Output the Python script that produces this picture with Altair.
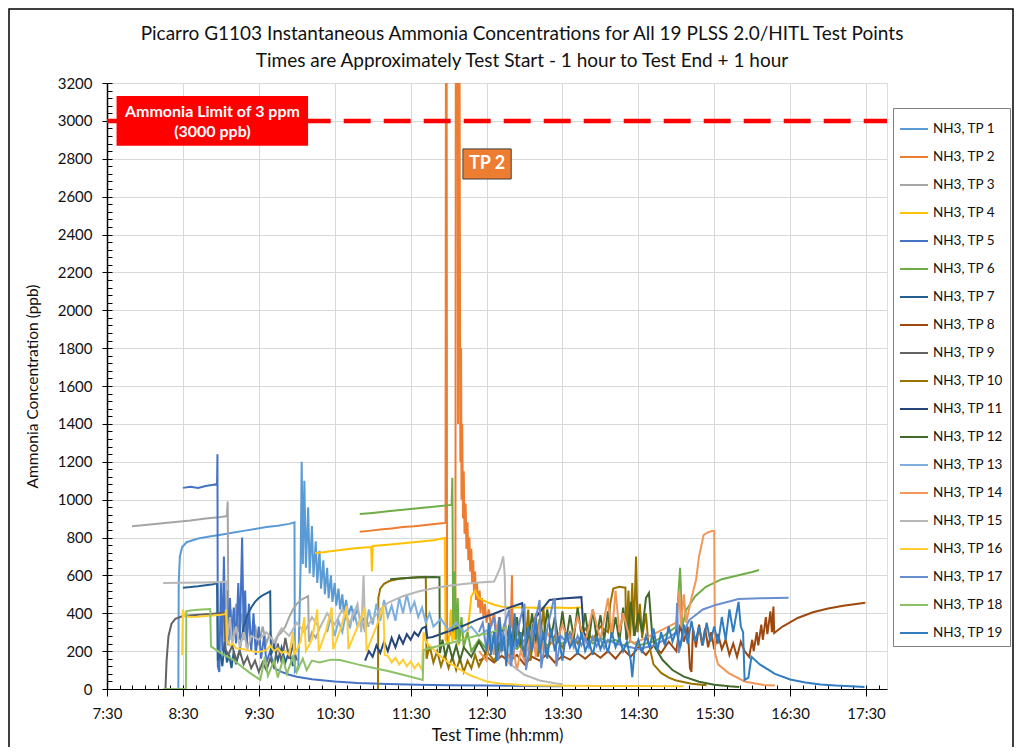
import altair as alt
import pandas as pd

FONT = "Lato"
TITLE_LINES = [
    "Picarro G1103 Instantaneous Ammonia Concentrations for All 19 PLSS 2.0/HITL Test Points",
    "Times are Approximately Test Start - 1 hour to Test End + 1 hour",
]
X_TITLE = "Test Time (hh:mm)"
Y_TITLE = "Ammonia Concentration (ppb)"
X_TICKS = [7.5 + i for i in range(11)]
Y_TICKS = list(range(0, 3201, 200))
X_MINOR = [7.5 + k / 6 for k in range(62)]
Y_MINOR = list(range(0, 3201, 40))
X_DOMAIN = [7.5, 17.776]
Y_DOMAIN = [0, 3200]

SERIES = [f"NH3, TP {i}" for i in range(1, 20)]
COLORS = ["#5B9BD5", "#ED7D31", "#A5A5A5", "#FFC000", "#4472C4", "#70AD47",
          "#255E91", "#9E480E", "#636363", "#997300", "#264478", "#43682B",
          "#7CAFDD", "#F1975A", "#B7B7B7", "#FFCD33", "#698ED0", "#8CC168",
          "#327DC2"]

LIMIT_PPB = 3000
LIMIT_TEXT = ["Ammonia Limit of 3 ppm", "(3000 ppb)"]
LIMIT_TEXT_T = [8.889, 8.889]
LIMIT_TEXT_V = [3047, 2941]
LIMIT_BOX = {"t0": [7.626], "t1": [10.149], "v0": [2868], "v1": [3132]}
TP2_TEXT = ["TP 2"]
TP2_TEXT_T = [12.507]
TP2_TEXT_V = [2772]
TP2_BOX = {"t0": [12.189], "t1": [12.825], "v0": [2693], "v1": [2852]}

# (time in decimal hours, ammonia ppb)
TP1 = [(8.40,0),(8.44,0),(8.445,560),(8.46,700),(8.49,750),(8.55,775),(8.70,795),(8.85,805),(9.00,815),(9.15,825),(9.30,835),(9.45,845),(9.60,855),(9.75,862),(9.90,872),(9.97,880),(9.975,90),(10.02,110),(10.05,640),(10.065,1200),(10.08,660),(10.10,1100),(10.12,640),(10.15,960),(10.17,610),(10.20,860),(10.22,590),(10.25,780),(10.27,560),(10.30,730),(10.32,530),(10.35,680),(10.37,500),(10.40,640),(10.42,480),(10.45,600),(10.47,460),(10.50,560),(10.52,440),(10.55,530),(10.57,420),(10.60,500),(10.62,400),(10.65,470),(10.68,390),(10.72,440),(10.75,370),(10.80,420),(10.85,350),(10.90,380),(10.95,330)]
TP2 = [(10.83,830),(10.95,835),(11.10,842),(11.25,848),(11.40,855),(11.55,860),(11.70,866),(11.85,872),(11.96,877),(11.965,3300),(11.975,3300),(11.98,250),(12.03,300),(12.09,350),(12.095,3300),(12.12,3300),(12.125,1400),(12.13,3300),(12.145,3300),(12.15,2170),(12.155,1200),(12.165,1800),(12.17,1000),(12.18,1400),(12.19,900),(12.20,1150),(12.21,820),(12.225,980),(12.235,740),(12.25,880),(12.26,680),(12.275,800),(12.285,620),(12.30,740),(12.31,560),(12.325,680),(12.335,510),(12.35,620),(12.36,470),(12.375,560),(12.39,430),(12.41,520),(12.42,400),(12.44,480),(12.46,380),(12.48,450),(12.50,350),(12.53,420),(12.56,330),(12.60,400),(12.63,300),(12.67,380),(12.70,290),(12.74,350),(12.78,280),(12.82,330),(12.835,600),(12.845,300),(12.90,320),(12.95,260),(13.00,300),(13.05,220),(13.10,280),(13.15,200),(13.20,260),(13.30,210)]
TP3 = [(7.83,860),(8.00,866),(8.20,874),(8.40,882),(8.60,890),(8.80,900),(9.00,908),(9.08,913),(9.09,990),(9.10,300),(9.13,420),(9.16,280),(9.20,450),(9.23,300),(9.27,400),(9.30,260),(9.35,380),(9.40,250),(9.45,340),(9.50,230),(9.55,330),(9.60,240),(9.65,300),(9.70,220),(9.75,280),(9.80,300),(9.85,330),(9.90,380),(9.95,420),(10.00,450),(10.05,470),(10.10,480),(10.15,490),(10.16,250),(10.20,300),(10.25,270),(10.30,320)]
TP4 = [(10.24,717),(10.40,725),(10.60,735),(10.80,745),(10.98,750),(10.99,620),(11.00,755),(11.20,762),(11.40,770),(11.60,778),(11.80,786),(11.95,797),(11.96,260),(12.00,230),(12.03,420),(12.05,250),(12.07,600),(12.08,260),(12.10,380),(12.13,230),(12.16,330),(12.20,250),(12.25,300),(12.30,490),(12.35,520),(12.40,480),(12.50,460),(12.60,445),(12.70,435),(12.80,430),(13.00,430),(13.20,428),(13.40,430),(13.60,428),(13.75,430)]
TP5 = [(8.50,1062),(8.60,1068),(8.70,1062),(8.80,1072),(8.90,1078),(8.95,1082),(8.955,1240),(8.96,120),(8.98,90),(9.00,560),(9.02,200),(9.04,700),(9.06,260),(9.08,520),(9.10,230),(9.12,480),(9.14,260),(9.17,430),(9.20,240),(9.23,560),(9.25,260),(9.28,800),(9.30,300),(9.32,520),(9.34,220),(9.37,450),(9.40,200),(9.43,400),(9.46,180),(9.50,330),(9.53,160),(9.57,280),(9.60,140),(9.65,200),(9.70,110),(9.80,90),(9.90,75),(10.00,65),(10.20,52),(10.50,40),(10.80,32),(11.20,26),(11.60,22),(12.00,20),(12.50,18),(13.00,16),(13.50,15)]
TP6 = [(10.83,924),(11.00,930),(11.20,938),(11.40,946),(11.60,955),(11.80,963),(12.04,972),(12.05,1115),(12.06,300),(12.08,620),(12.10,260),(12.12,480),(12.14,240),(12.17,380),(12.20,220),(12.25,300),(12.30,200),(12.40,260),(12.50,210),(12.60,250),(12.70,200),(12.80,240),(12.90,210),(13.00,260),(13.10,220),(13.20,270),(13.30,230),(13.40,260),(13.50,240),(13.60,270),(13.70,250),(13.80,280),(13.90,240),(14.00,270),(14.10,250),(14.20,260),(14.30,230),(14.40,250),(14.50,230),(14.60,240),(14.70,250),(14.80,270),(14.90,300),(15.00,330),(15.05,640),(15.08,330),(15.13,417),(15.25,490),(15.39,540),(15.60,580),(15.82,601),(16.00,618),(16.09,628)]
TP7 = [(8.50,535),(8.60,538),(8.70,542),(8.80,548),(8.90,553),(8.95,560),(8.96,150),(8.99,200),(9.02,120),(9.05,250),(9.08,140),(9.11,180),(9.14,110),(9.17,200),(9.20,130),(9.25,210),(9.30,330),(9.35,390),(9.40,430),(9.45,460),(9.50,480),(9.55,495),(9.60,505),(9.65,515),(9.66,180),(9.70,230),(9.75,150),(9.80,220),(9.85,140),(9.90,200),(9.95,120)]
TP8 = [(12.40,150),(12.50,170),(12.60,140),(12.70,175),(12.80,145),(12.90,180),(13.00,130),(13.10,170),(13.20,150),(13.30,185),(13.40,140),(13.50,175),(13.60,155),(13.70,190),(13.80,160),(13.90,195),(14.00,165),(14.10,200),(14.20,160),(14.30,210),(14.40,170),(14.50,220),(14.60,180),(14.70,230),(14.80,190),(14.90,250),(15.00,200),(15.05,340),(15.10,250),(15.15,330),(15.18,110),(15.20,90),(15.22,320),(15.26,220),(15.30,340),(15.34,230),(15.38,320),(15.42,220),(15.46,300),(15.50,210),(15.55,290),(15.60,210),(15.65,260),(15.70,180),(15.75,240),(15.80,170),(15.85,250),(15.90,200),(15.96,170),(16.00,260),(16.02,200),(16.06,300),(16.08,230),(16.12,340),(16.14,260),(16.18,380),(16.20,290),(16.24,410),(16.26,300),(16.28,435),(16.29,296),(16.40,330),(16.60,375),(16.80,405),(17.00,425),(17.20,440),(17.49,456)]
TP9 = [(8.27,0),(8.285,150),(8.31,280),(8.35,345),(8.40,370),(8.50,385),(8.70,392),(8.90,397),(9.05,402),(9.06,210),(9.10,180),(9.15,230),(9.20,150),(9.25,200),(9.30,130),(9.35,170),(9.40,110),(9.45,150),(9.50,90),(9.55,140),(9.60,100),(9.65,160),(9.70,120),(9.75,240),(9.80,140),(9.85,270),(9.90,160),(9.95,230),(10.00,150)]
TP10 = [(11.06,0),(11.07,0),(11.075,480),(11.10,530),(11.15,555),(11.22,570),(11.35,582),(11.50,588),(11.70,592),(11.71,160),(11.75,230),(11.80,140),(11.85,200),(11.90,120),(11.95,180),(12.00,110),(12.05,170),(12.10,100),(12.15,160),(12.20,90),(12.25,150),(12.30,110),(12.35,180),(12.40,120),(12.50,200),(12.60,150),(12.70,230),(12.80,170),(12.90,260),(13.00,190),(13.05,420),(13.08,150),(13.15,400),(13.18,170),(13.25,430),(13.28,200),(13.40,280),(13.50,220),(13.60,300),(13.70,240),(13.80,320),(13.90,260),(14.00,330),(14.10,300),(14.13,450),(14.17,530),(14.25,540),(14.33,535),(14.34,260),(14.37,520),(14.39,250),(14.42,560),(14.44,280),(14.47,700),(14.49,300),(14.52,450),(14.55,270),(14.60,400),(14.63,250),(14.66,200),(14.70,130),(14.80,85),(14.90,60),(15.00,45),(15.20,28),(15.40,20)]
TP11 = [(10.90,150),(10.95,200),(11.00,170),(11.05,230),(11.10,190),(11.15,250),(11.20,200),(11.25,270),(11.30,220),(11.35,280),(11.40,240),(11.45,290),(11.50,260),(11.55,300),(11.60,280),(11.65,320),(11.70,330),(11.72,270),(11.79,275),(12.00,305),(12.20,335),(12.40,370),(12.58,395),(12.80,430),(12.97,453),(13.00,300),(13.05,250),(13.15,380),(13.33,470),(13.50,478),(13.75,485),(13.78,300),(13.85,250)]
TP12 = [(11.23,580),(11.40,585),(11.60,590),(11.80,592),(11.88,590),(11.885,190),(11.92,260),(11.96,170),(12.00,240),(12.05,160),(12.10,230),(12.15,150),(12.20,220),(12.30,170),(12.40,250),(12.50,180),(12.60,280),(12.65,200),(12.70,320),(12.75,210),(12.80,340),(12.85,220),(12.90,380),(12.95,230),(13.00,350),(13.05,240),(13.10,400),(13.15,250),(13.20,370),(13.25,260),(13.30,420),(13.35,270),(13.40,380),(13.45,250),(13.50,410),(13.55,260),(13.60,390),(13.65,270),(13.70,430),(13.75,280),(13.80,400),(13.85,260),(13.90,420),(13.95,270),(14.00,390),(14.05,260),(14.10,410),(14.15,270),(14.20,380),(14.25,250),(14.30,430),(14.35,260),(14.40,460),(14.45,280),(14.50,400),(14.55,300),(14.60,480),(14.64,507),(14.68,300),(14.72,220),(14.82,153),(14.95,100),(15.10,65),(15.30,38),(15.50,22),(15.70,14),(15.83,10)]
TP13 = [(10.40,300),(10.45,380),(10.50,280),(10.55,360),(10.60,300),(10.65,400),(10.70,320),(10.75,420),(10.80,330),(10.85,380),(10.90,300),(10.95,420),(11.00,340),(11.05,450),(11.10,360),(11.15,470),(11.20,380),(11.25,440),(11.30,360),(11.35,480),(11.40,400),(11.45,500),(11.50,410),(11.55,460),(11.60,380),(11.65,430),(11.70,350),(11.75,400),(11.80,330),(11.90,370),(12.00,310),(12.10,350),(12.20,300),(12.30,330),(12.40,280),(12.50,310),(12.60,270),(12.70,300),(12.80,260)]
TP14 = [(12.40,200),(12.50,150),(12.55,300),(12.60,180),(12.65,350),(12.70,200),(12.75,250),(12.80,130),(12.85,220),(12.90,100),(12.95,200),(13.00,150),(13.10,320),(13.15,170),(13.20,360),(13.25,200),(13.30,300),(13.40,220),(13.50,340),(13.60,230),(13.70,380),(13.80,250),(13.90,420),(14.00,260),(14.10,480),(14.15,280),(14.20,520),(14.25,300),(14.30,400),(14.40,250),(14.45,243),(14.60,270),(14.80,310),(15.00,350),(15.04,520),(15.06,330),(15.10,500),(15.13,350),(15.20,480),(15.26,575),(15.30,700),(15.36,813),(15.42,828),(15.47,834),(15.50,834),(15.51,190),(15.55,130),(15.69,84),(15.90,40),(16.15,21),(16.30,18)]
TP15 = [(8.24,560),(8.50,561),(8.80,563),(9.07,566),(9.08,250),(9.12,380),(9.15,240),(9.20,330),(9.25,220),(9.30,300),(9.35,210),(9.40,280),(9.50,260),(9.60,300),(9.70,250),(9.80,320),(9.90,280),(10.00,350),(10.10,300),(10.20,380),(10.30,320),(10.40,400),(10.50,340),(10.60,420),(10.70,350),(10.80,450),(10.85,300),(10.88,600),(10.90,320),(11.00,370),(11.10,420),(11.20,455),(11.40,490),(11.60,515),(11.80,532),(12.00,545),(12.20,555),(12.40,562),(12.60,568),(12.68,640),(12.72,700),(12.74,600),(12.76,170),(12.85,120),(13.00,75),(13.20,45),(13.40,30),(13.50,25)]
TP16 = [(8.49,180),(8.50,420),(8.52,385),(8.60,380),(8.70,382),(8.80,385),(8.90,388),(9.00,392),(9.06,395),(9.07,420),(9.08,260),(9.12,230),(9.16,240),(9.20,215),(9.30,210),(9.40,200),(9.50,195),(9.60,205),(9.65,230),(9.70,200),(9.75,215),(9.80,190),(9.85,200),(9.90,180),(9.95,300),(9.97,180),(10.05,250),(10.10,380),(10.12,200),(10.20,260),(10.27,420),(10.29,200),(10.38,300),(10.46,430),(10.48,210),(10.58,320),(10.66,440),(10.68,210),(10.80,330),(10.90,430),(10.92,200),(11.05,330),(11.14,440),(11.16,180),(11.20,175),(11.25,140),(11.30,165),(11.35,130),(11.40,155),(11.45,120),(11.50,145),(11.55,110),(11.60,135),(11.65,100),(11.67,300),(11.70,250),(11.80,210),(11.90,170),(12.00,140),(12.10,115),(12.20,90),(12.30,70),(12.40,55),(12.50,40),(12.70,28),(13.00,20),(13.50,17),(14.00,16),(14.50,16),(15.10,15)]
TP17 = [(12.40,300),(12.45,350),(12.50,200),(12.55,320),(12.60,380),(12.65,150),(12.70,250),(12.75,360),(12.80,420),(12.82,120),(12.88,250),(12.95,380),(13.00,450),(13.02,100),(13.10,300),(13.18,430),(13.20,470),(13.22,110),(13.30,320),(13.38,460),(13.40,480),(13.42,120),(13.48,280),(13.55,250),(13.60,290),(13.65,220),(13.70,280),(13.75,230),(13.80,270),(13.85,220),(13.90,275),(13.95,225),(14.00,265),(14.05,215),(14.10,260),(14.20,240),(14.30,230),(14.40,220),(14.50,210),(14.60,220),(14.70,230),(14.80,250),(14.90,270),(15.00,300),(15.01,454),(15.03,190),(15.10,300),(15.17,364),(15.35,420),(15.52,444),(15.82,475),(16.10,479),(16.48,482)]
TP18 = [(8.24,0),(8.54,0),(8.545,410),(8.60,415),(8.70,418),(8.86,422),(8.87,225),(9.00,190),(9.17,153),(9.30,110),(9.40,80),(9.52,48),(9.58,170),(9.62,70),(9.70,150),(9.75,60),(9.82,160),(9.87,80),(9.95,170),(10.00,90),(10.08,160),(10.13,100),(10.20,150),(10.30,140),(10.45,155),(10.57,153),(10.80,130),(11.00,112),(11.20,95),(11.40,75),(11.66,48),(11.67,206),(11.80,220),(12.00,240),(12.20,262),(12.40,285),(12.54,296),(12.77,327)]
TP19 = [(12.50,200),(12.53,350),(12.56,180),(12.60,300),(12.63,150),(12.67,380),(12.70,200),(12.73,280),(12.76,120),(12.80,330),(12.83,180),(12.87,400),(12.90,220),(12.95,300),(13.00,170),(13.05,330),(13.10,200),(13.15,360),(13.20,190),(13.25,300),(13.30,160),(13.35,320),(13.40,200),(13.45,280),(13.50,150),(13.55,300),(13.60,220),(13.65,260),(13.70,180),(13.75,300),(13.80,200),(13.85,250),(13.90,180),(13.95,280),(14.00,210),(14.05,260),(14.10,190),(14.15,300),(14.20,220),(14.25,270),(14.30,200),(14.35,250),(14.40,150),(14.42,63),(14.45,200),(14.50,260),(14.55,190),(14.60,280),(14.65,220),(14.70,320),(14.75,200),(14.80,300),(14.85,230),(14.90,330),(14.95,250),(15.00,310),(15.05,220),(15.10,340),(15.15,240),(15.20,360),(15.25,250),(15.30,330),(15.35,230),(15.40,350),(15.45,250),(15.50,330),(15.55,240),(15.60,380),(15.65,260),(15.70,420),(15.75,300),(15.82,460),(15.85,330),(15.88,300),(15.90,48),(15.95,60),(15.99,170),(16.10,130),(16.30,80),(16.50,50),(16.70,34),(16.90,24),(17.10,18),(17.30,14),(17.48,11)]

SERIES_DATA = [TP1, TP2, TP3, TP4, TP5, TP6, TP7, TP8, TP9, TP10, TP11, TP12,
               TP13, TP14, TP15, TP16, TP17, TP18, TP19]

rows = []
for name, pts in zip(SERIES, SERIES_DATA):
    for t, v in pts:
        rows.append({"series": name, "t": t, "v": v})
df = pd.DataFrame(rows)

sx = alt.Scale(domain=X_DOMAIN, nice=False, zero=False)
sy = alt.Scale(domain=Y_DOMAIN, nice=False, zero=False)
TXT = "#111111"

frame = alt.Chart(pd.DataFrame({"a": [0]})).mark_rect(
    fillOpacity=0, stroke="#000000", strokeWidth=1.5
).encode(x=alt.value(-98), x2=alt.value(906), y=alt.value(-74), y2=alt.value(720))

lines = alt.Chart(df).mark_line(strokeWidth=2, clip=True).encode(
    x=alt.X("t:Q", scale=sx, axis=alt.Axis(
        values=X_TICKS, labelExpr="floor(datum.value) + ':30'", title=X_TITLE,
        grid=True, gridColor="#D9D9D9", gridWidth=1, tickSize=7, tickColor="#000000",
        domainColor="#000000", domainWidth=1, labelFont=FONT, labelFontSize=15,
        labelColor=TXT, labelPadding=10, labelFlush=False, titleFont=FONT,
        titleFontSize=16.5, titleFontWeight="normal", titleColor=TXT, titlePadding=6)),
    y=alt.Y("v:Q", scale=sy, axis=alt.Axis(
        values=Y_TICKS, format="d", title=Y_TITLE, grid=True, gridColor="#D9D9D9",
        gridWidth=1, tickSize=5, tickColor="#000000", domainColor="#000000",
        domainWidth=1.5, labelFont=FONT, labelFontSize=15, labelColor=TXT,
        labelPadding=10, labelFlush=False, titleFont=FONT, titleFontSize=15.5,
        titleFontWeight="normal", titleColor=TXT, titlePadding=17)),
    color=alt.Color("series:N", scale=alt.Scale(domain=SERIES, range=COLORS),
                    legend=alt.Legend(
                        title=None, orient="none", legendX=786, legendY=25,
                        direction="vertical", symbolType="stroke", symbolSize=784,
                        symbolStrokeWidth=2, labelFont=FONT, labelFontSize=13.5,
                        labelColor=TXT, labelOffset=4, rowPadding=6, padding=6,
                        strokeColor="#7f7f7f", fillColor="white", labelLimit=200)),
)

minor = alt.Chart(df).mark_point(opacity=0).encode(
    x=alt.X("t:Q", scale=sx, axis=alt.Axis(
        orient="bottom", values=X_MINOR, labels=False, grid=False, domain=False,
        tickSize=4, tickColor="#000000", offset=-4, title=None)),
    y=alt.Y("v:Q", scale=sy, axis=alt.Axis(
        orient="left", values=Y_MINOR, labels=False, grid=False, domain=False,
        tickSize=5, tickColor="#000000", offset=-5, title=None)),
)

rule = alt.Chart(pd.DataFrame({"v": [LIMIT_PPB]})).mark_rule(
    color="#FF0000", strokeWidth=4.5, strokeDash=[27, 13], strokeDashOffset=3.7
).encode(y=alt.Y("v:Q", scale=sy, axis=None))

limit_box = alt.Chart(pd.DataFrame(LIMIT_BOX)).mark_rect(color="#FF0000").encode(
    x=alt.X("t0:Q", scale=sx, axis=None), x2="t1:Q",
    y=alt.Y("v0:Q", scale=sy, axis=None), y2="v1:Q")
limit_txt = alt.Chart(pd.DataFrame({"txt": LIMIT_TEXT, "t": LIMIT_TEXT_T, "v": LIMIT_TEXT_V})).mark_text(
    font=FONT, fontSize=16, fontWeight="bold", color="white", align="center", baseline="middle"
).encode(x=alt.X("t:Q", scale=sx, axis=None), y=alt.Y("v:Q", scale=sy, axis=None), text="txt:N")

tp2_box = alt.Chart(pd.DataFrame(TP2_BOX)).mark_rect(
    color="#ED7D31", stroke="#404040", strokeWidth=1
).encode(x=alt.X("t0:Q", scale=sx, axis=None), x2="t1:Q",
         y=alt.Y("v0:Q", scale=sy, axis=None), y2="v1:Q")
tp2_txt = alt.Chart(pd.DataFrame({"txt": TP2_TEXT, "t": TP2_TEXT_T, "v": TP2_TEXT_V})).mark_text(
    font=FONT, fontSize=18, fontWeight="bold", color="white", align="center", baseline="middle"
).encode(x=alt.X("t:Q", scale=sx, axis=None), y=alt.Y("v:Q", scale=sy, axis=None), text="txt:N")

chart = alt.layer(
    frame, lines, minor, rule, limit_box, limit_txt, tp2_box, tp2_txt
).properties(
    width=780, height=606,
    title=alt.TitleParams(TITLE_LINES, font=FONT, fontSize=19, fontWeight="normal",
                          color=TXT, anchor="middle", frame="group", dx=25, dy=63,
                          offset=0, lineHeight=27),
    padding={"left": 99, "top": 75, "right": 128, "bottom": 58},
    autosize=alt.AutoSizeParams(type="none"),
).resolve_axis(x="independent", y="independent").configure_view(
    stroke="#8c8c8c", strokeWidth=1
).configure(background="white")

chart.save("out.html", embed_options={"renderer": "svg", "actions": False})
